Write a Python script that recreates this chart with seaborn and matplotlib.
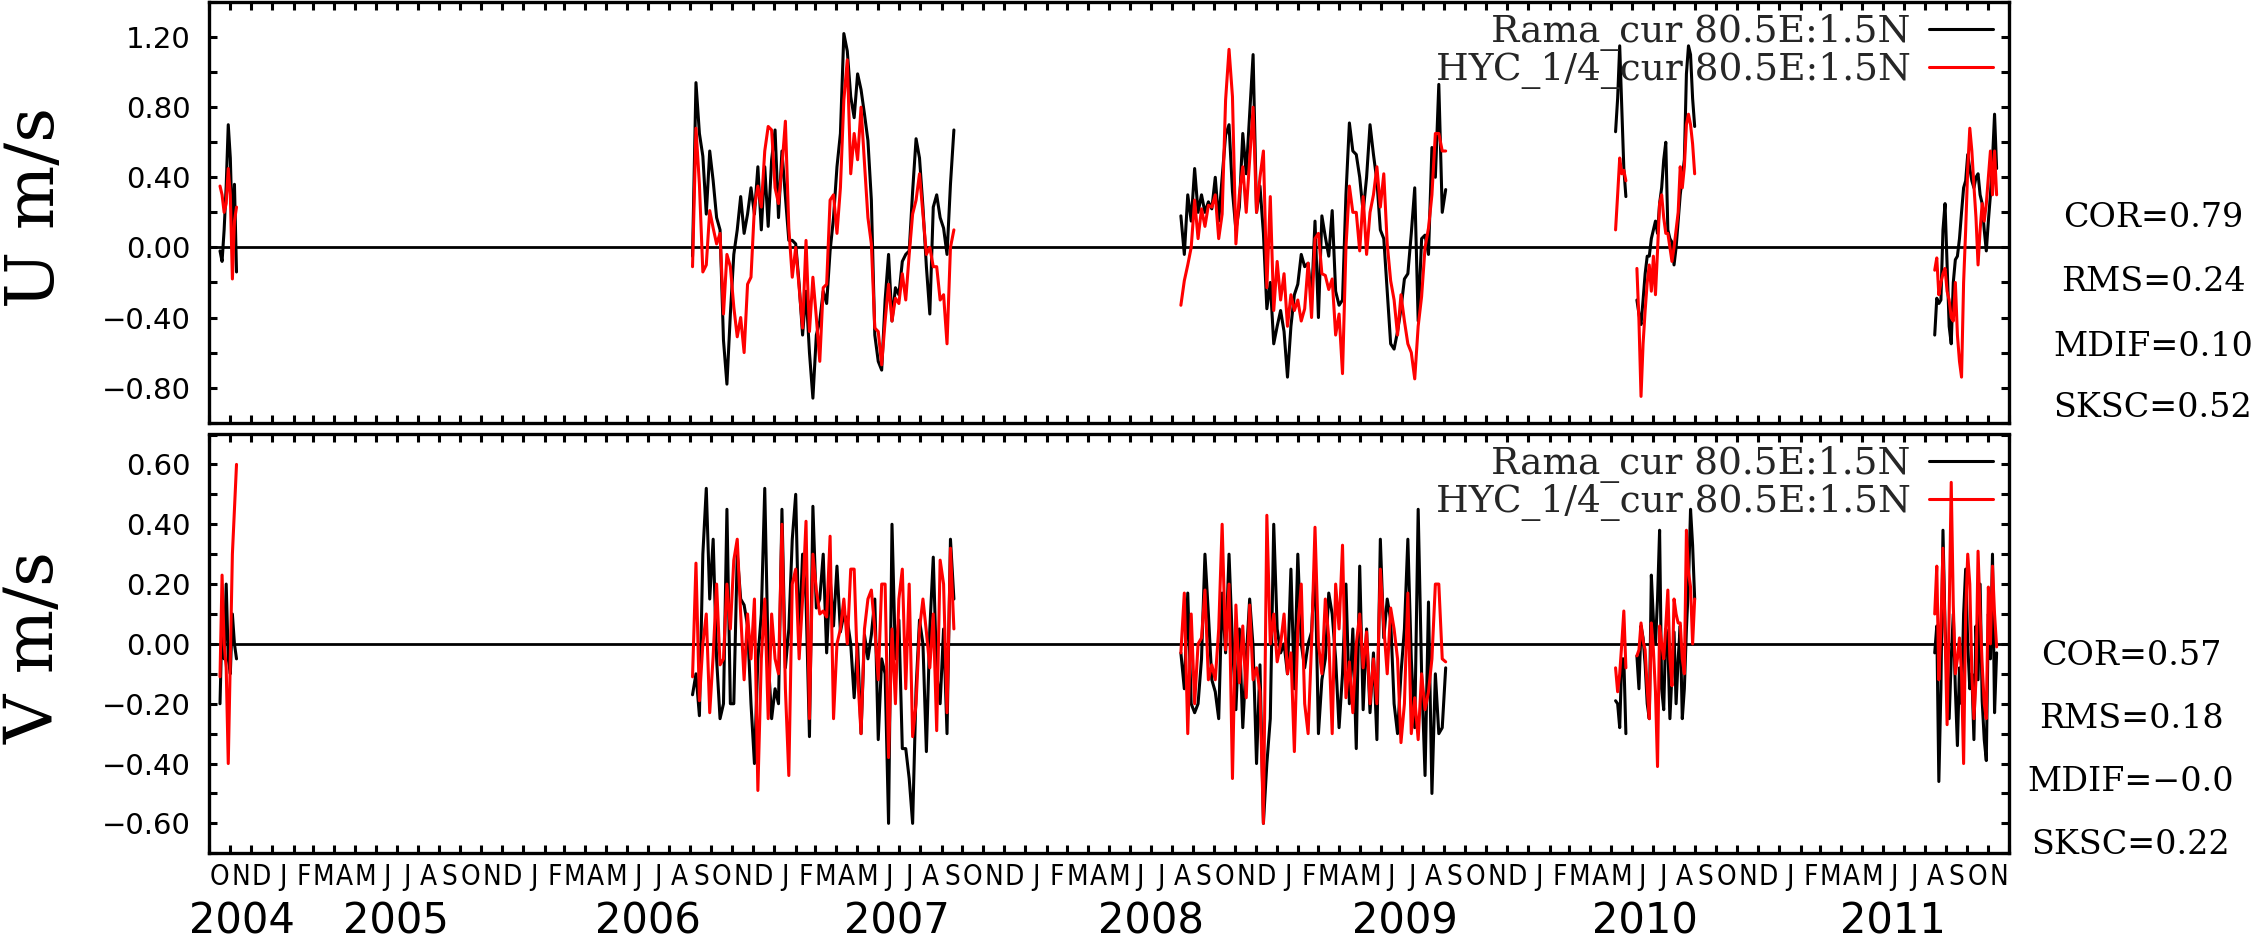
import numpy as np
import pandas as pd
import matplotlib
matplotlib.use("Agg")
import matplotlib.pyplot as plt
import matplotlib.dates as mdates
import matplotlib.transforms as mtransforms
from matplotlib import font_manager as fm
from matplotlib.font_manager import FontProperties
from matplotlib.ticker import MultipleLocator, FuncFormatter, NullFormatter
import seaborn as sns

# ------------------------------------------------------------------ data
SOURCES = ["Rama_cur 80.5E:1.5N", "HYC_1/4_cur 80.5E:1.5N"]
COLORS = ["black", "red"]

# 2004 segment (3-day spacing)
seg04_start, seg04_step = "2004-10-17", 3
u_rama_04 = [-0.02, -0.08, 0.10, 0.35, 0.70, 0.51, 0.08, 0.36, -0.14]
u_hyc_04 = [0.35, 0.30, 0.20, 0.25, 0.45, 0.30, -0.18, 0.15, 0.23]
v_rama_04 = [-0.20, 0.08, -0.05, 0.20, -0.05, -0.10, 0.10, 0.00, -0.05]
v_hyc_04 = [-0.11, 0.23, 0.00, -0.08, -0.40, -0.05, 0.30, 0.45, 0.60]

# 2006-2007 segment (5-day spacing)
seg06_start, seg06_step = "2006-09-04", 5
u_rama_06 = [-0.05, 0.94, 0.65, 0.52, 0.19, 0.55, 0.38, 0.17, 0.10, -0.53,
             -0.78, -0.38, -0.04, 0.10, 0.29, 0.08, 0.19, 0.34, 0.19, 0.46,
             0.10, 0.46, 0.12, 0.50, 0.67, 0.17, 0.55, 0.29, 0.04, 0.04,
             0.02, -0.21, -0.50, -0.25, -0.60, -0.86, -0.50, -0.42, -0.25, -0.32,
             -0.02, 0.17, 0.46, 0.65, 1.22, 1.12, 0.86, 0.74, 0.99, 0.90,
             0.76, 0.61, 0.27, -0.50, -0.65, -0.70, -0.30, -0.04, -0.42, -0.23,
             -0.27, -0.08, -0.04, -0.02, 0.32, 0.62, 0.51, 0.23, -0.11, -0.38,
             0.23, 0.30, 0.17, 0.11, -0.04, 0.36, 0.67]
u_hyc_06 = [-0.11, 0.68, 0.36, -0.14, -0.10, 0.21, 0.11, 0.02, 0.08, -0.38,
            -0.04, -0.11, -0.34, -0.51, -0.40, -0.60, -0.21, -0.17, 0.23, 0.35,
            0.23, 0.55, 0.69, 0.67, 0.34, 0.25, 0.46, 0.72, 0.11, -0.17,
            0.00, -0.23, -0.46, 0.04, -0.48, -0.17, -0.40, -0.65, -0.23, -0.21,
            0.27, 0.30, 0.08, 0.34, 0.84, 1.07, 0.42, 0.65, 0.50, 0.80,
            0.48, 0.17, 0.02, -0.46, -0.48, -0.67, -0.42, -0.21, -0.42, -0.29,
            -0.32, -0.15, -0.30, -0.04, 0.19, 0.27, 0.42, 0.19, -0.04, 0.00,
            -0.11, -0.11, -0.30, -0.27, -0.55, 0.00, 0.10]
v_rama_06 = [-0.17, -0.10, -0.24, 0.30, 0.52, 0.15, 0.35, -0.05, -0.25, -0.20,
             0.45, -0.20, -0.20, 0.30, 0.15, 0.13, 0.06, -0.20, -0.40, -0.05,
             0.10, 0.52, -0.05, -0.25, -0.15, -0.20, 0.45, -0.08, 0.05, 0.35,
             0.50, 0.00, 0.30, 0.15, -0.31, 0.46, 0.12, 0.15, 0.30, -0.03,
             0.22, 0.06, 0.26, 0.04, 0.10, 0.08, 0.00, -0.18, 0.00, -0.30,
             0.03, -0.05, 0.03, 0.15, -0.32, -0.05, -0.10, -0.60, 0.40, -0.05,
             0.08, -0.35, -0.35, -0.45, -0.60, -0.15, 0.08, 0.00, -0.36, 0.05,
             0.29, -0.10, -0.20, 0.05, -0.30, 0.35, 0.15]
v_hyc_06 = [-0.11, 0.27, -0.19, 0.00, 0.10, -0.23, -0.04, 0.20, -0.07, -0.05,
            0.20, 0.05, 0.28, 0.35, 0.10, -0.12, 0.10, -0.05, 0.15, -0.49,
            -0.05, 0.15, -0.25, 0.10, -0.05, -0.10, 0.40, -0.15, -0.44, 0.20,
            0.25, -0.05, 0.15, 0.41, -0.25, 0.30, 0.18, 0.10, 0.11, 0.09,
            0.36, -0.25, 0.00, 0.05, 0.15, 0.00, 0.25, 0.25, -0.10, -0.30,
            0.05, 0.15, 0.18, 0.05, -0.12, 0.20, 0.20, -0.38, 0.05, -0.20,
            0.15, 0.25, -0.15, 0.20, -0.31, -0.20, 0.05, 0.15, 0.04, -0.08,
            0.10, -0.29, 0.28, 0.20, -0.23, 0.32, 0.05]

# 2008-2009 segment (5-day spacing)
seg08_start, seg08_step = "2008-08-14", 5
u_rama_08 = [0.18, -0.04, 0.30, 0.15, 0.45, 0.20, 0.30, 0.20, 0.26, 0.22,
             0.40, 0.15, 0.40, 0.64, 0.70, 0.32, 0.10, 0.23, 0.65, 0.42,
             0.76, 1.10, 0.20, 0.35, 0.08, -0.35, -0.20, -0.55, -0.45, -0.36,
             -0.48, -0.74, -0.45, -0.27, -0.21, -0.04, -0.11, -0.09, -0.30, 0.15,
             -0.40, 0.18, 0.06, -0.05, 0.21, -0.25, -0.33, -0.30, 0.30, 0.71,
             0.55, 0.53, 0.40, 0.20, 0.40, 0.70, 0.53, 0.38, 0.10, 0.05,
             -0.25, -0.55, -0.58, -0.48, -0.35, -0.18, -0.15, 0.08, 0.34, -0.42,
             0.05, 0.07, -0.04, 0.57, 0.40, 0.93, 0.20, 0.33]
u_hyc_08 = [-0.33, -0.19, -0.10, 0.00, 0.27, 0.05, 0.22, 0.12, 0.24, 0.23,
            0.30, 0.05, 0.19, 0.84, 1.13, 0.86, 0.02, 0.30, 0.46, 0.20,
            0.50, 0.80, 0.20, 0.40, 0.55, -0.23, 0.29, -0.36, -0.08, -0.30,
            -0.15, -0.45, -0.27, -0.36, -0.30, -0.42, -0.35, -0.09, -0.40, 0.05,
            0.08, -0.15, -0.16, -0.24, -0.18, -0.50, -0.38, -0.72, 0.00, 0.35,
            0.20, 0.20, -0.02, 0.29, -0.04, 0.20, 0.30, 0.46, 0.23, 0.42,
            0.02, -0.19, -0.30, -0.50, -0.27, -0.42, -0.55, -0.60, -0.75, -0.45,
            -0.28, 0.00, 0.11, 0.30, 0.65, 0.65, 0.55, 0.55]
v_rama_08 = [-0.03, -0.15, 0.17, -0.20, -0.23, -0.20, -0.05, 0.30, 0.10, -0.12,
             -0.16, -0.25, 0.17, -0.03, 0.30, 0.00, -0.22, 0.05, -0.28, -0.05,
             0.15, -0.01, -0.40, -0.07, -0.60, -0.40, -0.25, 0.40, 0.05, -0.03,
             0.00, -0.10, 0.25, -0.15, 0.30, 0.00, -0.08, 0.00, 0.04, 0.28,
             -0.30, -0.12, -0.05, 0.17, 0.10, -0.05, -0.28, -0.10, 0.20, -0.20,
             0.05, -0.35, 0.26, -0.22, 0.05, -0.23, -0.03, -0.32, 0.35, 0.02,
             0.15, 0.08, -0.20, -0.30, -0.10, 0.05, 0.35, -0.05, -0.28, 0.45,
             -0.10, -0.44, 0.14, -0.50, -0.10, -0.30, -0.28, -0.08]
v_hyc_08 = [-0.03, 0.17, -0.30, 0.10, -0.20, 0.00, 0.02, 0.18, -0.12, -0.07,
            -0.12, 0.05, 0.40, -0.02, 0.20, -0.45, 0.13, -0.13, 0.06, -0.18,
            0.13, -0.12, -0.08, -0.16, -0.60, 0.43, 0.00, 0.10, -0.06, 0.00,
            0.10, -0.10, -0.03, -0.36, 0.05, 0.20, -0.20, -0.30, 0.00, 0.39,
            0.00, -0.10, 0.15, 0.02, -0.30, 0.20, 0.05, 0.33, -0.18, -0.06,
            -0.23, 0.00, 0.10, -0.08, 0.04, -0.20, -0.05, -0.20, 0.25, 0.06,
            -0.10, 0.12, 0.05, -0.05, -0.33, -0.20, 0.17, -0.30, -0.18, -0.32,
            -0.10, -0.22, -0.16, -0.05, 0.20, 0.20, -0.05, -0.06]

# 2010 first short piece (3-day spacing)
seg10a_start, seg10a_step = "2010-05-08", 3
u_rama_10a = [0.66, 0.85, 1.15, 0.80, 0.45, 0.29]
u_hyc_10a = [0.10, 0.30, 0.51, 0.42, 0.44, 0.38]
v_rama_10a = [-0.19, -0.20, -0.28, -0.05, -0.05, -0.30]
v_hyc_10a = [-0.08, -0.16, -0.10, 0.00, 0.11, -0.08]

# 2010 second piece (3-day spacing)
seg10b_start, seg10b_step = "2010-06-08", 3
u_rama_10b = [-0.30, -0.38, -0.44, -0.30, -0.15, -0.05, -0.05, 0.05, 0.10, 0.15,
              0.08, 0.25, 0.34, 0.50, 0.60, 0.10, 0.05, 0.03, -0.10, 0.00,
              0.15, 0.30, 0.40, 0.50, 0.99, 1.15, 1.10, 0.85, 0.69]
u_hyc_10b = [-0.12, -0.42, -0.85, -0.55, -0.36, -0.20, -0.10, -0.25, -0.05, -0.27,
             -0.02, 0.25, 0.30, 0.17, 0.08, 0.08, 0.00, -0.08, 0.00, 0.10,
             0.20, 0.46, 0.34, 0.46, 0.70, 0.76, 0.70, 0.59, 0.42]
v_rama_10b = [-0.04, -0.15, 0.06, 0.02, -0.07, -0.20, -0.25, 0.23, 0.08, 0.00,
              0.15, 0.38, -0.15, -0.22, 0.05, 0.00, -0.25, -0.10, 0.04, -0.20,
              -0.05, 0.06, -0.25, -0.15, 0.05, 0.20, 0.45, 0.33, 0.15]
v_hyc_10b = [-0.04, -0.02, 0.07, 0.01, -0.02, -0.15, -0.25, 0.07, -0.02, -0.16,
             -0.41, 0.06, 0.00, -0.05, 0.06, 0.18, -0.05, -0.14, 0.15, 0.10,
             0.07, 0.07, -0.05, -0.10, 0.38, 0.24, 0.19, 0.00, 0.15]

# 2011 segment (3-day spacing)
seg11_start, seg11_step = "2011-08-15", 3
u_rama_11 = [-0.50, -0.29, -0.32, -0.30, 0.10, 0.25, -0.10, -0.45, -0.55, -0.20,
             -0.07, -0.05, 0.05, 0.20, 0.34, 0.38, 0.53, 0.45, 0.38, 0.34,
             0.40, 0.42, 0.30, 0.25, 0.10, -0.02, 0.15, 0.30, 0.50, 0.76, 0.45]
u_hyc_11 = [-0.13, -0.06, -0.27, -0.20, -0.15, -0.12, -0.25, -0.30, -0.40, -0.42,
            -0.20, -0.50, -0.65, -0.74, -0.20, 0.10, 0.45, 0.68, 0.55, 0.35,
            0.17, -0.10, 0.10, 0.25, 0.15, 0.25, 0.40, 0.55, 0.30, 0.55, 0.30]
v_rama_11 = [-0.03, 0.06, -0.46, -0.15, 0.38, 0.06, -0.12, -0.25, -0.05, 0.10,
             -0.15, -0.34, -0.08, -0.20, 0.10, 0.25, 0.00, -0.15, -0.10, -0.32,
             0.06, -0.12, 0.20, -0.19, -0.32, -0.39, 0.10, -0.05, 0.30, -0.23, -0.03]
v_hyc_11 = [0.10, 0.26, -0.12, 0.06, 0.32, 0.04, -0.27, 0.10, 0.54, 0.13,
            -0.10, -0.05, 0.02, -0.10, -0.40, 0.10, 0.30, 0.20, -0.10, -0.25,
            -0.12, 0.31, 0.10, -0.07, -0.20, -0.25, 0.19, 0.00, 0.26, 0.10, -0.01]

MONTH_LETTERS = "JFMAMJJASOND"
YEAR_LABELS = ["2004", "2005", "2006", "2007", "2008", "2009", "2010", "2011"]
YEAR_LABEL_DATES = ["2004-11-18", "2005-06-30", "2006-07-01", "2007-06-28",
                    "2008-07-02", "2009-07-06", "2010-06-19", "2011-06-15"]
U_STATS = ["COR=0.79", "RMS=0.24", "MDIF=0.10", "SKSC=0.52"]
V_STATS = ["COR=0.57", "RMS=0.18", "MDIF=\u22120.0", "SKSC=0.22"]
U_LABEL = "U m/s"
V_LABEL = "V m/s"
X_START, X_END = "2004-10-01", "2011-12-01"

# ------------------------------------------------------------------ frame
segments = [
    (seg04_start, seg04_step, u_rama_04, u_hyc_04, v_rama_04, v_hyc_04),
    (seg06_start, seg06_step, u_rama_06, u_hyc_06, v_rama_06, v_hyc_06),
    (seg08_start, seg08_step, u_rama_08, u_hyc_08, v_rama_08, v_hyc_08),
    (seg10a_start, seg10a_step, u_rama_10a, u_hyc_10a, v_rama_10a, v_hyc_10a),
    (seg10b_start, seg10b_step, u_rama_10b, u_hyc_10b, v_rama_10b, v_hyc_10b),
    (seg11_start, seg11_step, u_rama_11, u_hyc_11, v_rama_11, v_hyc_11),
]
frames = []
for i, (start, step, ur, uh, vr, vh) in enumerate(segments):
    dates = pd.date_range(start, periods=len(ur), freq=f"{step}D")
    for comp, vals, src in [("U", ur, SOURCES[0]), ("U", uh, SOURCES[1]),
                            ("V", vr, SOURCES[0]), ("V", vh, SOURCES[1])]:
        frames.append(pd.DataFrame({"date": dates, "value": vals,
                                    "source": src, "comp": comp, "seg": i}))
df = pd.concat(frames, ignore_index=True)

# ------------------------------------------------------------------ style
sns.set_theme(style="white")
plt.rcParams["font.family"] = ["DejaVu Sans"]
plt.rcParams["axes.unicode_minus"] = True

# narrow font for month initials, if one is available
month_fp = None
for fam, stretch in [("Liberation Sans Narrow", "normal"), ("DejaVu Sans", "condensed"),
                     ("Roboto Condensed", "normal"), ("Open Sans", "condensed")]:
    try:
        fp = FontProperties(family=fam, stretch=stretch)
        path = fm.findfont(fp, fallback_to_default=False)
        if "narrow" in path.lower() or "condensed" in path.lower():
            month_fp = FontProperties(family=fam, stretch=stretch, size=20)
            break
    except Exception:
        pass
if month_fp is None:
    month_fp = FontProperties(family="DejaVu Sans", size=18)

W, H = 2255, 944
fig = plt.figure(figsize=(W / 100, H / 100), dpi=100)
fig.patch.set_facecolor("white")

L, R = 209, 2009
ax_u = fig.add_axes([L / W, 1 - 422.7 / H, (R - L) / W, 420.7 / H])
ax_v = fig.add_axes([L / W, 1 - 853.3 / H, (R - L) / W, 418.8 / H])


def fmt_y(v, pos):
    if abs(v) < 1e-9:
        v = 0.0
    return f"{v:.2f}".replace("-", "\u2212")


def fmt_month(x, pos):
    return MONTH_LETTERS[mdates.num2date(x).month - 1]


for ax, comp, ylim, major, minor in [(ax_u, "U", (-1.0, 1.4), 0.4, 0.2),
                                     (ax_v, "V", (-0.7, 0.7), 0.2, 0.1)]:
    ax.set_facecolor("white")
    ax.axhline(0, color="black", lw=2.0, zorder=1)
    sns.lineplot(data=df[df["comp"] == comp], x="date", y="value",
                 hue="source", hue_order=SOURCES, palette=COLORS,
                 units="seg", estimator=None, sort=False,
                 lw=2.2, ax=ax, zorder=2)
    ax.set_xlim(pd.Timestamp(X_START), pd.Timestamp(X_END))
    ax.set_ylim(*ylim)
    ax.set_xlabel("")
    ax.set_ylabel("")
    ax.xaxis.set_major_locator(mdates.MonthLocator())
    ax.xaxis.set_major_formatter(NullFormatter())
    ax.xaxis.set_minor_locator(mdates.MonthLocator(bymonthday=16))
    ax.xaxis.set_minor_formatter(NullFormatter())
    ax.yaxis.set_major_locator(MultipleLocator(major))
    ax.yaxis.set_minor_locator(MultipleLocator(minor))
    ax.yaxis.set_major_formatter(FuncFormatter(fmt_y))
    ax.tick_params(axis="x", which="major", direction="in", length=6, width=2.2,
                   top=True, bottom=True, color="black")
    ax.tick_params(axis="x", which="minor", length=0, top=False, bottom=True)
    ax.tick_params(axis="y", which="both", direction="in", length=6, width=2.2,
                   left=True, right=True, color="black", labelsize=21, pad=13,
                   labelcolor="black")
    for s in ax.spines.values():
        s.set_color("black")
        s.set_linewidth(2.4)
        s.set_visible(True)
    h, l = ax.get_legend_handles_labels()
    leg = ax.legend(h[:2], l[:2], loc="upper right", bbox_to_anchor=(0.9911, 0.972),
                    markerfirst=False, frameon=False,
                    prop={"family": "DejaVu Serif", "size": 27},
                    handlelength=1.7, handletextpad=0.5, labelspacing=0.03,
                    borderaxespad=0, borderpad=0)
    for line in leg.get_lines():
        line.set_linewidth(2.2)

ax_v.xaxis.set_minor_formatter(FuncFormatter(fmt_month))
ax_v.tick_params(axis="x", which="minor", pad=7, labelcolor="black")
for t in ax_v.xaxis.get_minor_ticks():
    t.label1.set_fontproperties(month_fp)

# year labels
trans = mtransforms.blended_transform_factory(ax_v.transData, ax_v.transAxes)
for lab, d in zip(YEAR_LABELS, YEAR_LABEL_DATES):
    ax_v.text(mdates.date2num(pd.Timestamp(d)), -(934 - 853.3) / 418.8, lab,
              transform=trans, ha="center", va="baseline", fontsize=30,
              family="DejaVu Sans", color="black")

# axis titles
fig.text(35 / W, 1 - 207 / H, U_LABEL, rotation=90, ha="center", va="center",
         family="DejaVu Serif", fontsize=49, color="black")
fig.text(35 / W, 1 - 648 / H, V_LABEL, rotation=90, ha="center", va="center",
         family="DejaVu Serif", fontsize=49, color="black")

# statistics
for txt, ypx in zip(U_STATS, [218, 282, 347, 408]):
    fig.text(2153 / W, 1 - ypx / H, txt, ha="center", va="center",
             family="DejaVu Serif", fontsize=24, color="black")
for txt, ypx in zip(V_STATS, [656, 719, 782, 845]):
    fig.text(2131 / W, 1 - ypx / H, txt, ha="center", va="center",
             family="DejaVu Serif", fontsize=24, color="black")

fig.savefig("out.png", dpi=100, facecolor="white")
